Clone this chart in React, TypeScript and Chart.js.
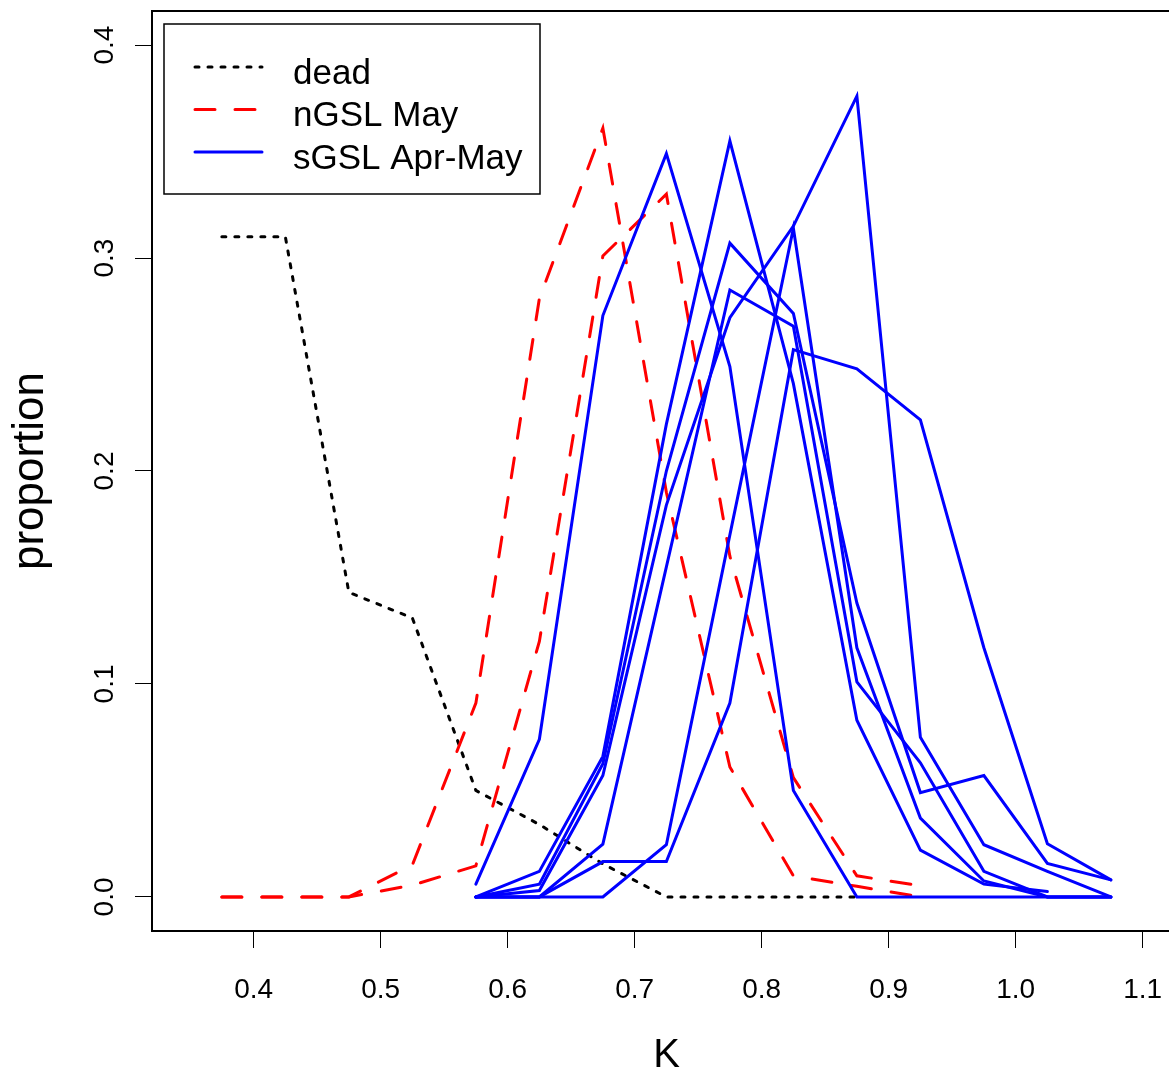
import React, { useEffect, useRef } from 'react';
import { Chart, registerables } from 'chart.js';

Chart.register(...registerables);

const FONT = '"Liberation Sans", Arial, Helvetica, sans-serif';

// bin mid-points of condition factor K
const kMid = [0.375, 0.425, 0.475, 0.525, 0.575, 0.625, 0.675, 0.725, 0.775, 0.825, 0.875, 0.925, 0.975, 1.025, 1.075];

const xTicks = [0.4, 0.5, 0.6, 0.7, 0.8, 0.9, 1.0, 1.1];
const yTicks = [0.0, 0.1, 0.2, 0.3, 0.4];

// dead fish
const dead = [0.31, 0.31, 0.143, 0.131, 0.05, 0.034, 0.0155, 0, 0, 0, 0, null, null, null, null];

// nGSL May samples
const ngsl1 = [0, 0, 0, 0.015, 0.091, 0.281, 0.361, 0.19, 0.061, 0.0099, 0.005, 0, null, null, null];
const ngsl2 = [0, 0, 0, 0.0055, 0.0146, 0.12, 0.301, 0.33, 0.16, 0.056, 0.0099, 0.0052, null, null, null];

// sGSL Apr-May samples
const sgsl1 = [null, null, null, null, 0.006, 0.074, 0.273, 0.349, 0.249, 0.05, 0, 0, 0, 0, 0];
const sgsl2 = [null, null, null, null, 0, 0.012, 0.066, 0.222, 0.355, 0.241, 0.083, 0.022, 0.006, 0.0025, null];
const sgsl3 = [null, null, null, null, 0, 0.006, 0.0625, 0.2, 0.307, 0.274, 0.138, 0.049, 0.057, 0.0157, 0.008];
const sgsl4 = [null, null, null, null, 0, 0.003, 0.057, 0.184, 0.272, 0.315, 0.376, 0.075, 0.0245, 0.012, 0];
const sgsl5 = [null, null, null, null, 0, 0, 0.0248, 0.155, 0.285, 0.268, 0.101, 0.063, 0.012, 0, 0];
const sgsl6 = [null, null, null, null, 0, 0, 0, 0.0245, 0.17, 0.314, 0.117, 0.037, 0.0075, 0, 0];
const sgsl7 = [null, null, null, null, 0, 0, 0.0166, 0.0166, 0.091, 0.257, 0.248, 0.224, 0.117, 0.025, 0.008];

const legendLabels = ['dead', 'nGSL May', 'sGSL Apr-May'];

const BLACK = '#000000';
const RED = '#FF0000';
const BLUE = '#0000FF';
const DOT = [4, 9];
const DASH = [20, 20];

function pts(vals: (number | null)[]) {
  return kMid
    .map((k, i) => ({ x: k, y: vals[i] }))
    .filter((p) => p.y !== null) as { x: number; y: number }[];
}

const legendStyles = [
  { color: BLACK, dash: DOT },
  { color: RED, dash: DASH },
  { color: BLUE, dash: [] as number[] },
];

const rPlot = {
  id: 'rPlot',
  beforeDraw(chart: any) {
    const { ctx, width, height } = chart;
    ctx.save();
    ctx.fillStyle = '#ffffff';
    ctx.fillRect(0, 0, width, height);
    ctx.restore();
  },
  afterDraw(chart: any) {
    const { ctx, chartArea } = chart;
    const { left, top, right, bottom } = chartArea;
    ctx.save();
    // plot box
    ctx.strokeStyle = BLACK;
    ctx.lineWidth = 2;
    ctx.setLineDash([]);
    ctx.strokeRect(left, top, right - left, bottom - top);

    // y tick labels, parallel to the axis (R style)
    const ys = chart.scales.y;
    ctx.fillStyle = BLACK;
    ctx.font = `28px ${FONT}`;
    ctx.textAlign = 'center';
    ctx.textBaseline = 'alphabetic';
    ys.ticks.forEach((t: any) => {
      const py = ys.getPixelForValue(t.value);
      ctx.save();
      ctx.translate(left - 39, py);
      ctx.rotate(-Math.PI / 2);
      ctx.fillText(Number(t.value).toFixed(1), 0, 0);
      ctx.restore();
    });

    // legend
    const bx = left + 12;
    const by = top + 13;
    ctx.lineWidth = 1.5;
    ctx.strokeStyle = BLACK;
    ctx.strokeRect(bx, by, 376, 170);
    ctx.font = `35px ${FONT}`;
    ctx.textAlign = 'left';
    legendLabels.forEach((lab, i) => {
      const ry = by + 43 + i * 42.5;
      const st = legendStyles[i];
      ctx.save();
      ctx.strokeStyle = st.color;
      ctx.lineWidth = 3;
      ctx.lineCap = 'round';
      ctx.setLineDash(st.dash);
      ctx.beginPath();
      ctx.moveTo(bx + 31, ry);
      ctx.lineTo(bx + 98, ry);
      ctx.stroke();
      ctx.restore();
      ctx.fillStyle = BLACK;
      ctx.fillText(lab, bx + 129, ry + 16.5);
    });
    ctx.restore();
  },
};

function line(data: (number | null)[], color: string, dash: number[], order: number) {
  return {
    data: pts(data),
    borderColor: color,
    backgroundColor: color,
    borderWidth: 3,
    borderDash: dash,
    borderCapStyle: 'round',
    borderJoinStyle: 'miter',
    pointRadius: 0,
    tension: 0,
    fill: false,
    order,
  };
}

export default function App() {
  const ref = useRef<HTMLCanvasElement | null>(null);
  useEffect(() => {
    if (!ref.current) return;
    const chart = new Chart(ref.current, {
      type: 'line',
      data: {
        datasets: [
          line(dead, BLACK, DOT, 2),
          line(ngsl1, RED, DASH, 1),
          line(ngsl2, RED, DASH, 1),
          line(sgsl1, BLUE, [], 0),
          line(sgsl2, BLUE, [], 0),
          line(sgsl3, BLUE, [], 0),
          line(sgsl4, BLUE, [], 0),
          line(sgsl5, BLUE, [], 0),
          line(sgsl6, BLUE, [], 0),
          line(sgsl7, BLUE, [], 0),
        ] as any,
      },
      options: {
        animation: false,
        responsive: false,
        devicePixelRatio: 1,
        layout: { padding: { top: 11, left: 0, right: 0, bottom: 0 } },
        plugins: {
          legend: { display: false },
          tooltip: { enabled: false },
          title: { display: false },
        },
        scales: {
          x: {
            type: 'linear',
            min: 0.32,
            max: 1.1302,
            afterBuildTicks: (s: any) => {
              s.ticks = xTicks.map((v) => ({ value: v }));
            },
            afterFit: (s: any) => {
              s.height = 143;
              s.paddingLeft = 0;
              s.paddingRight = 0;
            },
            grid: { display: true, drawOnChartArea: false, drawTicks: true, tickLength: 17, color: BLACK, lineWidth: 1 },
            border: { display: false },
            ticks: {
              font: { size: 28, family: FONT },
              color: BLACK,
              padding: 25,
              maxRotation: 0,
              autoSkip: false,
              callback: (v: any) => Number(v).toFixed(1),
            },
            title: {
              display: true,
              text: 'K',
              color: BLACK,
              font: { size: 40, family: FONT },
              padding: { top: 0, bottom: -6 },
            },
          },
          y: {
            type: 'linear',
            min: -0.016,
            max: 0.416,
            afterBuildTicks: (s: any) => {
              s.ticks = yTicks.map((v) => ({ value: v }));
            },
            afterFit: (s: any) => {
              s.width = 152;
              s.paddingTop = 0;
              s.paddingBottom = 0;
            },
            grid: { display: true, drawOnChartArea: false, drawTicks: true, tickLength: 17, color: BLACK, lineWidth: 1 },
            border: { display: false },
            ticks: { display: false },
            title: {
              display: true,
              text: 'proportion',
              color: BLACK,
              font: { size: 44, family: FONT },
              padding: { top: 4, bottom: 0 },
            },
          },
        },
      } as any,
      plugins: [rPlot],
    });
    return () => chart.destroy();
  }, []);

  return (
    <div style={{ position: 'absolute', left: 0, top: 0, width: 1169, height: 1074, overflow: 'hidden' }}>
      <canvas ref={ref} width={1181} height={1074} style={{ display: 'block', width: 1181, height: 1074 }} />
    </div>
  );
}
